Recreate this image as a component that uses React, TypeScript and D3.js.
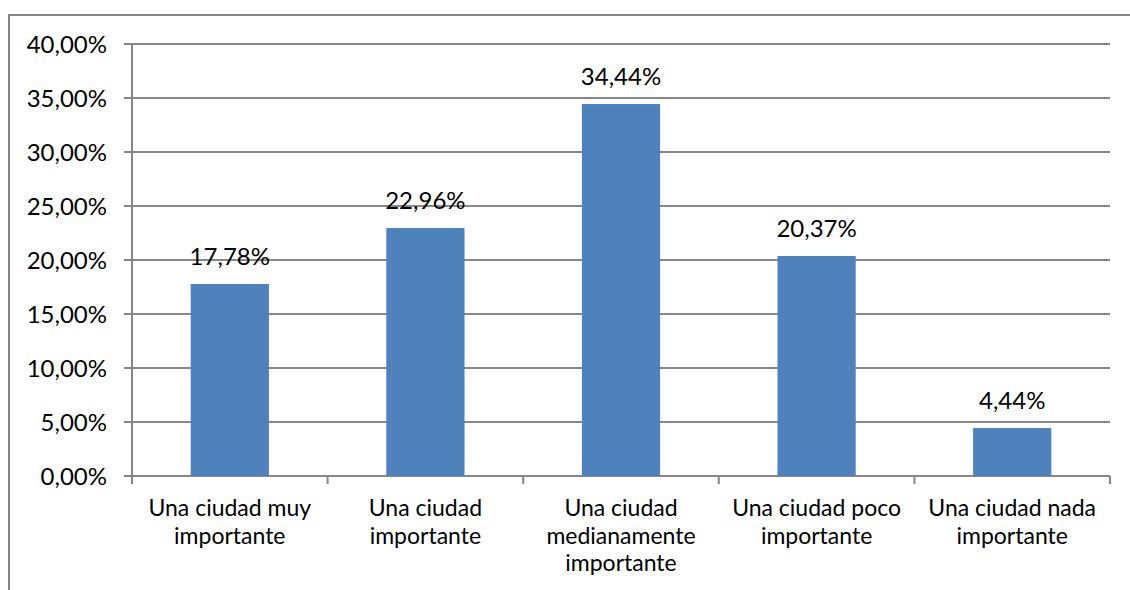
import React from "react";
import * as d3 from "d3";

const categories: string[] = [
  "Una ciudad muy|importante",
  "Una ciudad|importante",
  "Una ciudad|medianamente|importante",
  "Una ciudad poco|importante",
  "Una ciudad nada|importante",
];
const values: number[] = [17.78, 22.96, 34.44, 20.37, 4.44];
const yTicks: number[] = [0, 5, 10, 15, 20, 25, 30, 35, 40];

const W = 1130;
const H = 590;
const M = { left: 132, right: 1110, top: 44, bottom: 476 };
const FONT = "Lato, 'Open Sans', sans-serif";
const GRID = "#878787";
const BAR = "#4F81BD";

const fmt = (v: number, d: number) => v.toFixed(d).replace(".", ",") + "%";

export default function App() {
  const x = d3
    .scaleBand<number>()
    .domain(d3.range(categories.length))
    .range([M.left, M.right])
    .paddingInner(0.6)
    .paddingOuter(0.3);
  const y = d3.scaleLinear().domain([0, 40]).range([M.bottom, M.top]);
  const step = (M.right - M.left) / categories.length;

  return (
    <svg
      width={W}
      height={H}
      style={{ position: "absolute", left: 0, top: 0, background: "#fff" }}
    >
      <rect x={0} y={0} width={W} height={H} fill="#fff" />
      <rect x={9} y={15} width={W + 20} height={H + 20} fill="none" stroke={GRID} strokeWidth={2} />
      {yTicks.map((t) => (
        <g key={t}>
          <line x1={M.left - 8} x2={M.right} y1={y(t)} y2={y(t)} stroke={GRID} strokeWidth={2} />
          <text
            x={107}
            y={y(t)}
            dy="0.36em"
            textAnchor="end"
            fontFamily={FONT}
            fontSize={24}
            fill="#000"
          >
            {fmt(t, 2)}
          </text>
        </g>
      ))}
      <line x1={M.left} x2={M.left} y1={M.top} y2={M.bottom + 8} stroke={GRID} strokeWidth={2} />
      {d3.range(categories.length + 1).map((i) => (
        <line
          key={i}
          x1={M.left + i * step}
          x2={M.left + i * step}
          y1={M.bottom}
          y2={M.bottom + 8}
          stroke={GRID}
          strokeWidth={2}
        />
      ))}
      {values.map((v, i) => (
        <g key={i}>
          <rect
            x={x(i)!}
            y={y(v)}
            width={x.bandwidth()}
            height={y(0) - y(v)}
            fill={BAR}
          />
          <text
            x={x(i)! + x.bandwidth() / 2}
            y={y(v) - 19}
            textAnchor="middle"
            fontFamily={FONT}
            fontSize={24}
            fill="#000"
          >
            {fmt(v, 2)}
          </text>
        </g>
      ))}
      {categories.map((c, i) => (
        <text
          key={i}
          x={x(i)! + x.bandwidth() / 2}
          textAnchor="middle"
          fontFamily={FONT}
          fontSize={23}
          fill="#000"
        >
          {c.split("|").map((line, j) => (
            <tspan key={j} x={x(i)! + x.bandwidth() / 2} y={516 + j * 27.5}>
              {line}
            </tspan>
          ))}
        </text>
      ))}
    </svg>
  );
}
